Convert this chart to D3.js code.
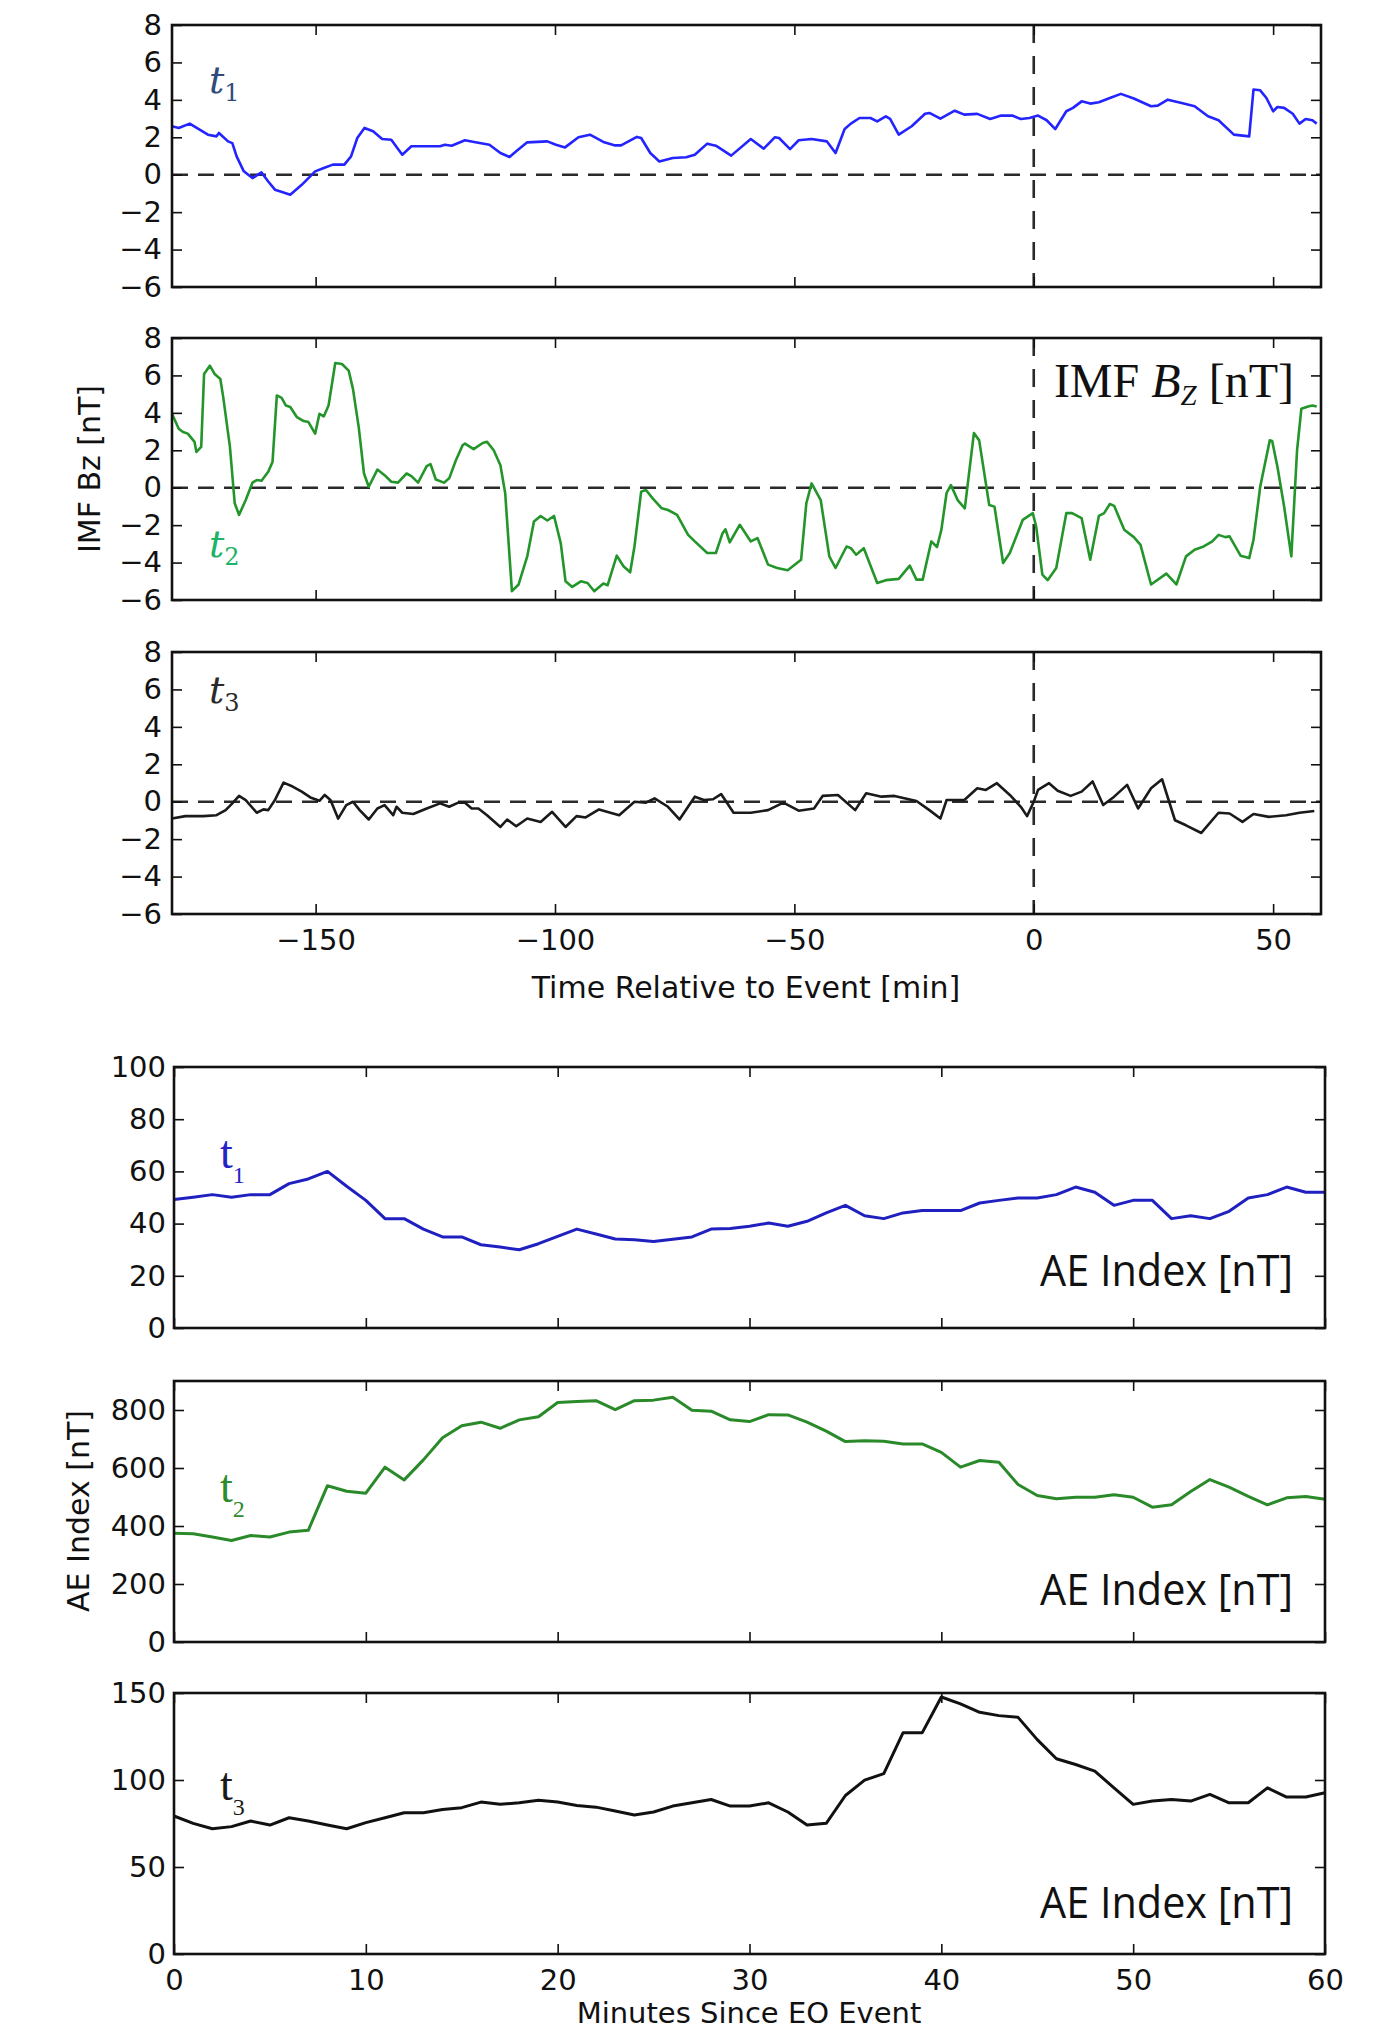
<!DOCTYPE html>
<html><head><meta charset="utf-8">
<script src="https://cdn.jsdelivr.net/npm/d3@7"></script>
<style>body{margin:0;background:#fff}svg{display:block}</style>
</head><body>
<svg id="chart" width="1382" height="2032"></svg>
<script>
// ---------------- DATA ----------------
const bzXTicks = [-150, -100, -50, 0, 50];
const bzYTicks = [-6, -4, -2, 0, 2, 4, 6, 8];
const aeXTicks = [0, 10, 20, 30, 40, 50, 60];
const ae1YTicks = [0, 20, 40, 60, 80, 100];
const ae2YTicks = [0, 200, 400, 600, 800];
const ae3YTicks = [0, 50, 100, 150];

// IMF Bz, t1 (minutes relative to event, nT)
const bz1Time = [-180,-178.6,-176.3,-172.5,-170.7,-170.2,-168.3,-167.4,-166.5,-165,-163.2,-161.3,-159.9,-158.5,-156.7,-155.3,-152.9,-150.1,-148.3,-146.4,-144,-142.6,-141.3,-139.8,-138,-136.1,-134.2,-131.9,-130,-128.6,-124,-123,-121.6,-118.8,-116.9,-113.7,-111.4,-109.5,-108.1,-105.8,-101.6,-99.8,-97.9,-95.1,-92.7,-89.9,-87.6,-86.2,-82.9,-82,-80.1,-78.2,-75.4,-72.6,-70.8,-68.2,-66.4,-63.2,-59.1,-56.4,-54.1,-53.2,-50.9,-49.1,-46.4,-43.2,-41.4,-39.5,-38.2,-36.4,-34.1,-32.7,-30.9,-30,-28.2,-25.5,-22.7,-21.8,-19.5,-16.5,-14.5,-11.8,-9.1,-6.8,-4.5,-2.7,-0.9,0.9,2.7,4.5,6.8,8.2,10,11.8,13.6,15.9,18.2,20.9,24.5,25.9,28,30.9,33.6,36.4,38.6,41.8,45,45.9,47.3,48.6,50,50.9,52.3,54.1,55.5,56.8,58.2,59.1];
const bz1Value = [2.59,2.5,2.73,2.14,2.05,2.23,1.78,1.69,0.98,0.18,-0.18,0.12,-0.36,-0.8,-0.95,-1.07,-0.54,0.18,0.36,0.54,0.54,0.98,1.96,2.5,2.32,1.91,1.87,1.07,1.52,1.52,1.52,1.6,1.55,1.84,1.75,1.6,1.16,0.95,1.25,1.73,1.78,1.6,1.46,2.0,2.14,1.75,1.57,1.57,2.02,1.96,1.16,0.71,0.89,0.93,1.07,1.66,1.55,1.02,1.91,1.39,2.0,1.96,1.37,1.84,1.91,1.78,1.16,2.44,2.73,3.03,3.03,2.85,3.12,2.98,2.14,2.59,3.26,3.3,3.0,3.42,3.21,3.25,2.98,3.16,3.16,2.98,3.03,3.16,2.91,2.44,3.39,3.57,3.92,3.8,3.87,4.1,4.32,4.07,3.66,3.69,4.01,3.83,3.66,3.12,2.91,2.14,2.05,4.55,4.51,4.1,3.39,3.62,3.57,3.26,2.73,2.98,2.91,2.73];

// IMF Bz, t2
const bz2Time = [-180,-178.6,-177.7,-176.7,-175.3,-174.9,-173.9,-173.3,-172.1,-171.1,-169.9,-169.3,-167.9,-166.9,-166,-164.6,-163.2,-162.3,-161.3,-159.9,-159,-158.1,-157.1,-156.2,-155.3,-153.9,-152.5,-151.5,-150.1,-149.2,-148.3,-147.3,-145.9,-144.5,-143.1,-142.2,-141,-139.9,-138.9,-137.1,-135.6,-134.2,-132.8,-131,-130,-128.6,-126.8,-126,-124.9,-123.2,-122.1,-120.7,-119.3,-118.8,-117,-115.1,-114.2,-112.8,-111.4,-110.4,-109,-107.6,-105.8,-104.4,-103,-101.6,-100.2,-98.8,-97.8,-96.4,-94.6,-93.2,-91.8,-89.9,-89,-87.1,-85.7,-84.3,-83.4,-82,-81,-79.6,-77.7,-76.4,-74.5,-72.2,-70.8,-68.2,-66.4,-65,-64.4,-63.5,-61.4,-59.1,-57.7,-55.5,-53.6,-51.4,-48.6,-47.5,-46.4,-44.5,-42.7,-41.4,-39.1,-38.2,-37.1,-35.5,-32.7,-30.9,-28.2,-25.9,-24.5,-23.2,-21.4,-20.2,-19.3,-18.2,-17.3,-15.9,-14.4,-12.5,-11.4,-9.3,-8.2,-6.4,-5,-2.3,-0.2,0.5,1.8,2.9,4.7,6.8,8,10,11.8,13.6,14.7,15.9,16.8,18.9,20.9,22.3,24.5,27.7,29.8,31.8,33.6,35.5,37.3,38.6,40,40.9,43.2,45,45.9,47.3,49.3,49.8,50.9,52.3,53.8,55,55.9,57.3,58.2,59.1];
const bz2Value = [3.95,3.15,2.98,2.89,2.45,1.91,2.18,6.08,6.52,6.08,5.81,4.84,2.18,-0.83,-1.45,-0.66,0.27,0.41,0.37,0.85,1.38,4.93,4.8,4.39,4.31,3.77,3.56,3.51,2.89,3.95,3.81,4.39,6.66,6.61,6.26,5.28,3.24,0.76,0.05,0.97,0.67,0.32,0.27,0.76,0.62,0.27,1.15,1.26,0.44,0.27,0.5,1.47,2.27,2.36,2.06,2.39,2.45,2.0,1.2,-0.3,-5.53,-5.17,-3.67,-1.81,-1.51,-1.75,-1.51,-2.96,-5.0,-5.3,-5.0,-5.09,-5.53,-5.12,-5.21,-3.63,-4.2,-4.52,-3.14,-0.21,-0.12,-0.57,-1.1,-1.19,-1.45,-2.52,-2.87,-3.49,-3.49,-2.43,-2.22,-2.92,-1.98,-2.87,-2.69,-4.11,-4.29,-4.41,-3.85,-0.83,0.23,-0.66,-3.67,-4.29,-3.14,-3.23,-3.58,-3.23,-5.09,-4.94,-4.87,-4.16,-4.91,-4.91,-2.87,-3.17,-2.25,-0.27,0.14,-0.66,-1.1,2.92,2.53,-0.92,-1.01,-4.02,-3.49,-1.72,-1.36,-2.07,-4.64,-4.94,-4.29,-1.36,-1.36,-1.63,-3.85,-1.51,-1.36,-0.87,-0.97,-2.25,-2.64,-3.05,-5.17,-4.59,-5.17,-3.67,-3.31,-3.14,-2.87,-2.52,-2.64,-2.6,-3.63,-3.76,-2.78,0.05,2.53,2.5,1.12,-1.01,-3.67,2.0,4.22,4.34,4.39,4.34];

// IMF Bz, t3
const bz3Time = [-180,-177.2,-173.5,-170.7,-168.8,-167.4,-166,-164.6,-162.3,-160.9,-159.9,-158.5,-156.7,-154.8,-152.9,-151.1,-149.2,-148.1,-146.9,-145.3,-143.6,-142.2,-140.8,-138.9,-137.1,-135.6,-133.8,-133.1,-131.9,-129.6,-126.8,-124,-122.1,-120.2,-118.8,-117.4,-116,-114.2,-111.4,-110,-108.1,-105.8,-103,-100.6,-97.8,-95.5,-93.6,-90.8,-86.6,-83.4,-81,-79.2,-76.4,-74,-70.8,-68.9,-67,-65.3,-62.7,-59.1,-55.5,-52.3,-49.1,-45.9,-44.1,-40.9,-37.3,-35,-31.8,-29.1,-24.5,-21.8,-19.5,-18.2,-14.5,-11.8,-10,-7.7,-5,-2.7,-1.4,0,0.9,3.2,5,7.7,10,12.3,14.5,16.8,19.5,21.8,24.5,26.8,29.5,31.8,35,38.6,40.9,43.6,45.9,49.1,52.7,55.5,58.6];
const bz3Value = [-0.9,-0.77,-0.77,-0.72,-0.45,-0.09,0.31,0.09,-0.59,-0.41,-0.45,0.09,1.02,0.81,0.54,0.23,0.05,0.36,0.09,-0.9,-0.18,0,-0.45,-0.95,-0.36,-0.18,-0.72,-0.27,-0.59,-0.66,-0.36,-0.09,-0.27,-0.05,-0.05,-0.36,-0.36,-0.72,-1.35,-0.95,-1.31,-0.9,-1.08,-0.54,-1.35,-0.77,-0.84,-0.41,-0.72,0,-0.05,0.18,-0.27,-0.95,0.27,0.09,0.13,0.41,-0.59,-0.59,-0.45,-0.05,-0.48,-0.36,0.31,0.36,-0.45,0.45,0.27,0.31,0.04,-0.45,-0.9,0.09,0.09,0.72,0.63,0.99,0.36,-0.27,-0.77,0,0.63,0.99,0.59,0.31,0.54,1.08,-0.18,0.27,0.9,-0.36,0.72,1.2,-0.99,-1.26,-1.67,-0.59,-0.63,-1.08,-0.66,-0.81,-0.72,-0.59,-0.5];

// AE index (minutes since EO event, nT)
const aeMinutes = [0,1,2,3,4,5,6,7,8,9,10,11,12,13,14,15,16,17,18,19,20,21,22,23,24,25,26,27,28,29,30,31,32,33,34,35,36,37,38,39,40,41,42,43,44,45,46,47,48,49,50,51,52,53,54,55,56,57,58,59,60];
const ae1Value = [49.2,50.1,51.1,50.1,51.1,51.1,55.3,57.1,60.0,54.3,48.9,41.9,41.9,37.9,34.9,34.9,31.9,31.0,30.0,32.3,35.1,37.9,36.0,34.1,33.8,33.1,34.0,34.9,37.9,38.1,39.0,40.2,39.0,40.9,44.1,47.0,43.0,41.9,44.1,45.0,45.0,45.0,47.9,48.9,49.8,49.8,51.1,54.0,52.0,47.0,48.9,48.9,41.9,43.0,41.9,44.7,49.8,51.1,54.0,52.0,52.0];
const ae2Value = [375,373,362,350,367,362,379,385,539,520,513,603,559,628,704,746,758,737,766,777,826,829,832,801,832,834,844,799,796,766,760,784,783,758,727,691,694,692,683,683,654,603,626,620,543,505,494,499,499,508,499,465,473,519,560,534,502,473,497,502,492];
const ae3Value = [79.3,75.1,72.0,73.2,76.4,74.1,78.3,76.4,74.1,72.0,75.5,78.3,81.2,81.2,83.1,84.1,87.3,86.0,86.9,88.3,87.3,85.4,84.4,82.2,79.9,81.6,85.0,86.9,88.8,85.0,85.0,86.9,81.6,74.1,75.1,91.1,99.9,103.7,127.1,127.1,147.7,143.7,138.9,137.0,136.0,123.2,112.2,108.9,105.1,95.5,86.0,87.9,88.8,87.9,91.7,86.9,86.9,95.5,90.2,90.2,92.7];

// ---------------- DRAWING ----------------
const svg = d3.select('#chart');
const TICK_FONT = 'DejaVu Sans';

function frameAxes(g, x, y, xTicks, yTicks, showXLabels, yPad) {
  const [x0, x1] = x.range();
  const [y0, y1] = y.range(); // y0 bottom, y1 top
  const axL = g.append('g').attr('transform', `translate(${x0},0)`)
    .call(d3.axisLeft(y).tickValues(yTicks).tickSize(-10).tickPadding(yPad));
  const axR = g.append('g').attr('transform', `translate(${x1},0)`)
    .call(d3.axisRight(y).tickValues(yTicks).tickSize(-10).tickFormat(''));
  const axB = g.append('g').attr('transform', `translate(0,${y0})`)
    .call(d3.axisBottom(x).tickValues(xTicks).tickSize(-10).tickPadding(15)
      .tickFormat(showXLabels ? d3.format('') : ''));
  const axT = g.append('g').attr('transform', `translate(0,${y1})`)
    .call(d3.axisTop(x).tickValues(xTicks).tickSize(-10).tickFormat(''));
  [axL, axR, axB, axT].forEach(a => {
    a.select('.domain').remove();
    a.selectAll('.tick line').attr('stroke', '#111').attr('stroke-width', 1.6);
    a.selectAll('text').attr('font-family', TICK_FONT).attr('font-size', 29).attr('fill', '#111');
  });
  g.append('rect').attr('x', x0).attr('y', y1).attr('width', x1 - x0).attr('height', y0 - y1)
    .attr('fill', 'none').attr('stroke', '#111').attr('stroke-width', 2.6);
}

// ---- IMF Bz panels ----
const bzPanels = [
  {top: 25,  time: bz1Time, value: bz1Value, color: '#2424ff', label: '1', labelColor: '#2f4b7c', labelDy: 68},
  {top: 338, time: bz2Time, value: bz2Value, color: '#23952a', label: '2', labelColor: '#1db36a', labelDy: 219},
  {top: 652, time: bz3Time, value: bz3Value, color: '#1a1a1a', label: '3', labelColor: '#2a2a2a', labelDy: 51}
];
const BZ_H = 262;
bzPanels.forEach((p, i) => {
  const x = d3.scaleLinear().domain([-180, 60]).range([172, 1321]);
  const y = d3.scaleLinear().domain([-6, 8]).range([p.top + BZ_H, p.top]);
  const g = svg.append('g');
  g.append('line').attr('x1', x(-180)).attr('x2', x(60)).attr('y1', y(0)).attr('y2', y(0))
    .attr('stroke', '#2a2a2a').attr('stroke-width', 2.6).attr('stroke-dasharray', '16,10');
  g.append('line').attr('x1', x(0)).attr('x2', x(0)).attr('y1', y(8)).attr('y2', y(-6))
    .attr('stroke', '#2a2a2a').attr('stroke-width', 2.6).attr('stroke-dasharray', '18,13');
  const line = d3.line().x((d, k) => x(p.time[k])).y(d => y(d));
  g.append('path').datum(p.value).attr('d', line).attr('fill', 'none')
    .attr('stroke', p.color).attr('stroke-width', 2.6).attr('stroke-linejoin', 'round');
  frameAxes(g, x, y, bzXTicks, bzYTicks, i === 2, 10);
  const t = g.append('text').attr('x', 209).attr('y', p.top + p.labelDy)
    .attr('fill', p.labelColor).attr('font-family', 'DejaVu Serif');
  t.append('tspan').attr('font-style', 'italic').attr('font-size', 38).text('t');
  t.append('tspan').attr('font-size', 24).attr('dy', 8).text(p.label);
});
// IMF Bz annotation
{
  const t = svg.append('text').attr('x', 1294).attr('y', 397).attr('text-anchor', 'end')
    .attr('font-family', 'Liberation Serif').attr('font-size', 48).attr('fill', '#111');
  t.append('tspan').text('IMF ');
  t.append('tspan').attr('font-style', 'italic').text('B');
  t.append('tspan').attr('font-style', 'italic').attr('font-size', 29).attr('dy', 8).text('Z');
  t.append('tspan').attr('dy', -8).text('\u00A0[nT]');
}
svg.append('text').attr('x', 746).attr('y', 998).attr('text-anchor', 'middle')
  .attr('font-family', TICK_FONT).attr('font-size', 30).attr('fill', '#111')
  .text('Time Relative to Event [min]');
svg.append('text').attr('transform', 'translate(100,469) rotate(-90)').attr('text-anchor', 'middle')
  .attr('font-family', TICK_FONT).attr('font-size', 30).attr('fill', '#111')
  .text('IMF Bz [nT]');

// ---- AE panels ----
const aePanels = [
  {top: 1067, domain: [0, 100], yTicks: ae1YTicks, value: ae1Value, color: '#2020c0', label: '1', labelColor: '#2424c4', labelDy: 101, annY: 1286},
  {top: 1381, domain: [0, 900], yTicks: ae2YTicks, value: ae2Value, color: '#2a8a2a', label: '2', labelColor: '#2e8b2e', labelDy: 121, annY: 1605},
  {top: 1693, domain: [0, 150], yTicks: ae3YTicks, value: ae3Value, color: '#111111', label: '3', labelColor: '#1a1a1a', labelDy: 107, annY: 1918}
];
const AE_H = 261;
aePanels.forEach((p, i) => {
  const x = d3.scaleLinear().domain([0, 60]).range([174, 1325]);
  const y = d3.scaleLinear().domain(p.domain).range([p.top + AE_H, p.top]);
  const g = svg.append('g');
  const line = d3.line().x((d, k) => x(aeMinutes[k])).y(d => y(d));
  g.append('path').datum(p.value).attr('d', line).attr('fill', 'none')
    .attr('stroke', p.color).attr('stroke-width', 3).attr('stroke-linejoin', 'round');
  frameAxes(g, x, y, aeXTicks, p.yTicks, i === 2, 8);
  const t = g.append('text').attr('x', 220).attr('y', p.top + p.labelDy)
    .attr('fill', p.labelColor).attr('font-family', 'Liberation Serif');
  t.append('tspan').attr('font-size', 46).text('t');
  t.append('tspan').attr('font-size', 24).attr('dy', 15).text(p.label);
  g.append('text').attr('x', 1293).attr('y', p.annY).attr('text-anchor', 'end')
    .attr('font-family', 'Open Sans').attr('font-size', 44).attr('fill', '#111')
    .attr('textLength', 253).attr('lengthAdjust', 'spacingAndGlyphs')
    .text('AE Index [nT]');
});
svg.append('text').attr('x', 749).attr('y', 2023).attr('text-anchor', 'middle')
  .attr('font-family', TICK_FONT).attr('font-size', 29).attr('fill', '#111')
  .text('Minutes Since EO Event');
svg.append('text').attr('transform', 'translate(89,1511) rotate(-90)').attr('text-anchor', 'middle')
  .attr('font-family', TICK_FONT).attr('font-size', 30).attr('fill', '#111')
  .text('AE Index [nT]');
</script>
</body></html>
